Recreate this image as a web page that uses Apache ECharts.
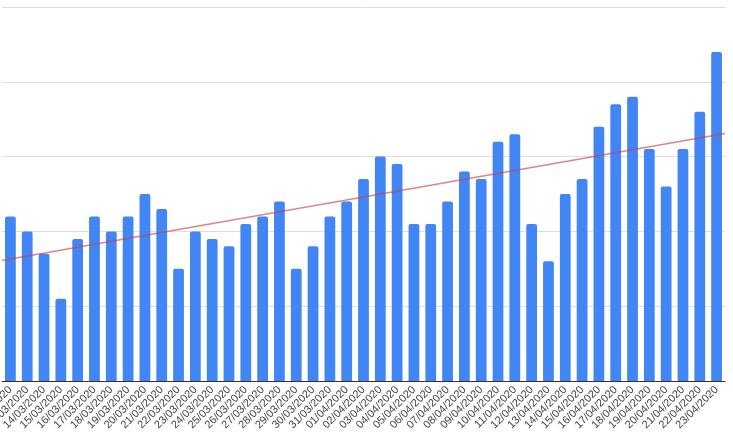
<!DOCTYPE html>
<html>
<head>
<meta charset="utf-8">
<script src="https://cdn.jsdelivr.net/npm/echarts@6/dist/echarts.min.js"></script>
<style>
  html, body { margin: 0; padding: 0; background: #ffffff; }
  #chart { width: 733px; height: 438px; }
</style>
</head>
<body>
<div id="chart"></div>
<script>
const dates = [
  "12/03/2020","13/03/2020","14/03/2020","15/03/2020","16/03/2020","17/03/2020","18/03/2020",
  "19/03/2020","20/03/2020","21/03/2020","22/03/2020","23/03/2020","24/03/2020","25/03/2020",
  "26/03/2020","27/03/2020","28/03/2020","29/03/2020","30/03/2020","31/03/2020","01/04/2020",
  "02/04/2020","03/04/2020","04/04/2020","05/04/2020","06/04/2020","07/04/2020","08/04/2020",
  "09/04/2020","10/04/2020","11/04/2020","12/04/2020","13/04/2020","14/04/2020","15/04/2020",
  "16/04/2020","17/04/2020","18/04/2020","19/04/2020","20/04/2020","21/04/2020","22/04/2020",
  "23/04/2020"
];
const values = [
  22, 20, 17, 11, 19, 22, 20,
  22, 25, 23, 15, 20, 19, 18,
  21, 22, 24, 15, 18, 22, 24,
  27, 30, 29, 21, 21, 24, 28,
  27, 32, 33, 21, 16, 25, 27,
  34, 37, 38, 31, 26, 31, 36,
  44
];
// trendline end points (category position, value)
const trendX = [-0.5, 42.5];
const trendY = [16.1, 33.1];
const yTicks = { min: 0, max: 50, interval: 10 };

const chart = echarts.init(document.getElementById('chart'), null, { renderer: 'canvas' });
chart.setOption({
  animation: false,
  backgroundColor: '#ffffff',
  grid: { left: 2, right: 8, top: 7, bottom: 57, containLabel: false, outerBoundsMode: 'none' },
  xAxis: [
    {
      type: 'category',
      data: dates,
      boundaryGap: true,
      axisTick: { show: false },
      axisLine: { show: true, lineStyle: { color: '#333333', width: 1 } },
      axisLabel: {
        interval: 0, rotate: 45, fontSize: 11, color: '#444444',
        fontFamily: 'Liberation Sans, Arial, sans-serif', margin: 7
      },
      splitLine: { show: false }
    },
    {
      type: 'value',
      min: trendX[0], max: trendX[1],
      show: false
    }
  ],
  yAxis: {
    type: 'value',
    min: yTicks.min, max: yTicks.max, interval: yTicks.interval,
    axisLabel: { show: false },
    axisLine: { show: false },
    axisTick: { show: false },
    splitLine: { show: true, lineStyle: { color: '#dedede', width: 1 } }
  },
  series: [
    {
      type: 'bar',
      xAxisIndex: 0,
      data: values,
      barWidth: '64%',
      itemStyle: { color: '#4285f4', borderRadius: [2, 2, 0, 0] }
    },
    {
      type: 'line',
      xAxisIndex: 1,
      data: [[trendX[0], trendY[0]], [trendX[1], trendY[1]]],
      symbol: 'none',
      lineStyle: { color: '#cc4444', width: 1.5, opacity: 0.65 },
      z: 5
    }
  ]
});
</script>
</body>
</html>
